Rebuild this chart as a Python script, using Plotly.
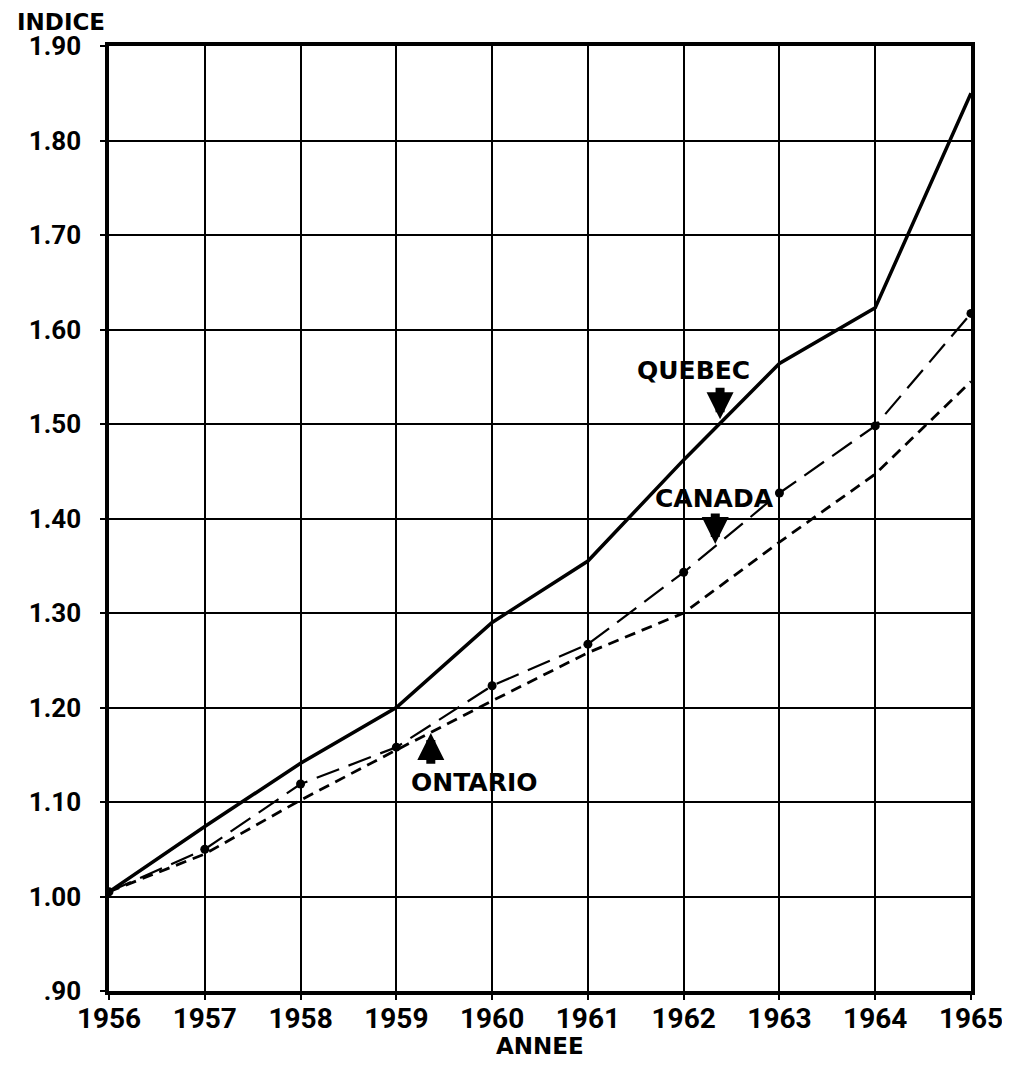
import plotly.graph_objects as go

# data
years = [1956, 1957, 1958, 1959, 1960, 1961, 1962, 1963, 1964, 1965]
quebec = [1.005, 1.074, 1.141, 1.200, 1.290, 1.355, 1.462, 1.564, 1.623, 1.850]
canada = [1.005, 1.050, 1.119, 1.158, 1.223, 1.267, 1.343, 1.427, 1.498, 1.617]
ontario = [1.005, 1.045, 1.102, 1.155, 1.207, 1.258, 1.300, 1.375, 1.447, 1.545]

y_ticks = [0.9, 1.0, 1.1, 1.2, 1.3, 1.4, 1.5, 1.6, 1.7, 1.8, 1.9]
y_labels = [".90", "1.00", "1.10", "1.20", "1.30", "1.40", "1.50", "1.60", "1.70", "1.80", "1.90"]

WORD_FONT = "DejaVu Sans"
TICK_FONT = "Roboto"

fig = go.Figure()

fig.add_trace(go.Scatter(
    x=years, y=quebec, mode="lines", name="QUEBEC",
    line=dict(color="black", width=3.5)
))
fig.add_trace(go.Scatter(
    x=years, y=canada, mode="lines+markers", name="CANADA",
    line=dict(color="black", width=2.2, dash="24px,10px"),
    marker=dict(color="black", size=9)
))
fig.add_trace(go.Scatter(
    x=years, y=ontario, mode="lines", name="ONTARIO",
    line=dict(color="black", width=2.8, dash="11px,7px")
))

# series labels and their arrows: text x, text y, arrow x, arrow tip y, arrow tail y
labels = [
    ("QUEBEC", 1962.10, 1.557, 1962.38, 1.505, 1.540),
    ("CANADA", 1962.32, 1.421, 1962.33, 1.373, 1.407),
    ("ONTARIO", 1959.81, 1.121, 1959.36, 1.173, 1.139),
]
for txt, tx, ty, axx, tip, tail in labels:
    fig.add_annotation(
        x=tx, y=ty, text=txt, showarrow=False,
        font=dict(family=WORD_FONT, size=25, color="black", weight="bold")
    )
    fig.add_annotation(
        x=axx, y=tip, ax=axx, ay=tail, axref="x", ayref="y",
        text="", showarrow=True, arrowhead=2, arrowsize=0.6,
        arrowwidth=9, arrowcolor="black"
    )

# axis titles
fig.add_annotation(
    x=0, y=1, xref="paper", yref="paper", xanchor="left", yanchor="top",
    text="INDICE", showarrow=False, xshift=-93, yshift=38, borderpad=0,
    font=dict(family=WORD_FONT, size=23, color="black", weight="bold")
)
fig.add_annotation(
    x=0.5, y=0, xref="paper", yref="paper", xanchor="center", yanchor="top",
    text="ANNEE", showarrow=False, yshift=-40,
    font=dict(family=WORD_FONT, size=23, color="black", weight="bold")
)

fig.update_xaxes(
    range=[1956, 1965], tickmode="array", tickvals=years,
    ticktext=[str(y) for y in years],
    showgrid=True, gridcolor="black", gridwidth=2,
    showline=True, linecolor="black", linewidth=3.5, mirror=True,
    ticks="outside", ticklen=5, tickcolor="black", tickwidth=2,
    ticklabelstandoff=-5,
    tickfont=dict(family=TICK_FONT, size=28, color="black", weight="bold"),
    zeroline=False
)
fig.update_yaxes(
    range=[0.9, 1.9], tickmode="array", tickvals=y_ticks, ticktext=y_labels,
    showgrid=True, gridcolor="black", gridwidth=2,
    showline=True, linecolor="black", linewidth=3.5, mirror=True,
    ticks="outside", ticklen=5, tickcolor="black", tickwidth=2,
    ticklabelstandoff=14,
    tickfont=dict(family=TICK_FONT, size=26, color="black", weight="bold"),
    zeroline=False
)

fig.update_layout(
    width=1010, height=1065,
    plot_bgcolor="white", paper_bgcolor="white",
    showlegend=False,
    margin=dict(l=101, r=47, t=38, b=82)
)

fig.write_html("out.html")
